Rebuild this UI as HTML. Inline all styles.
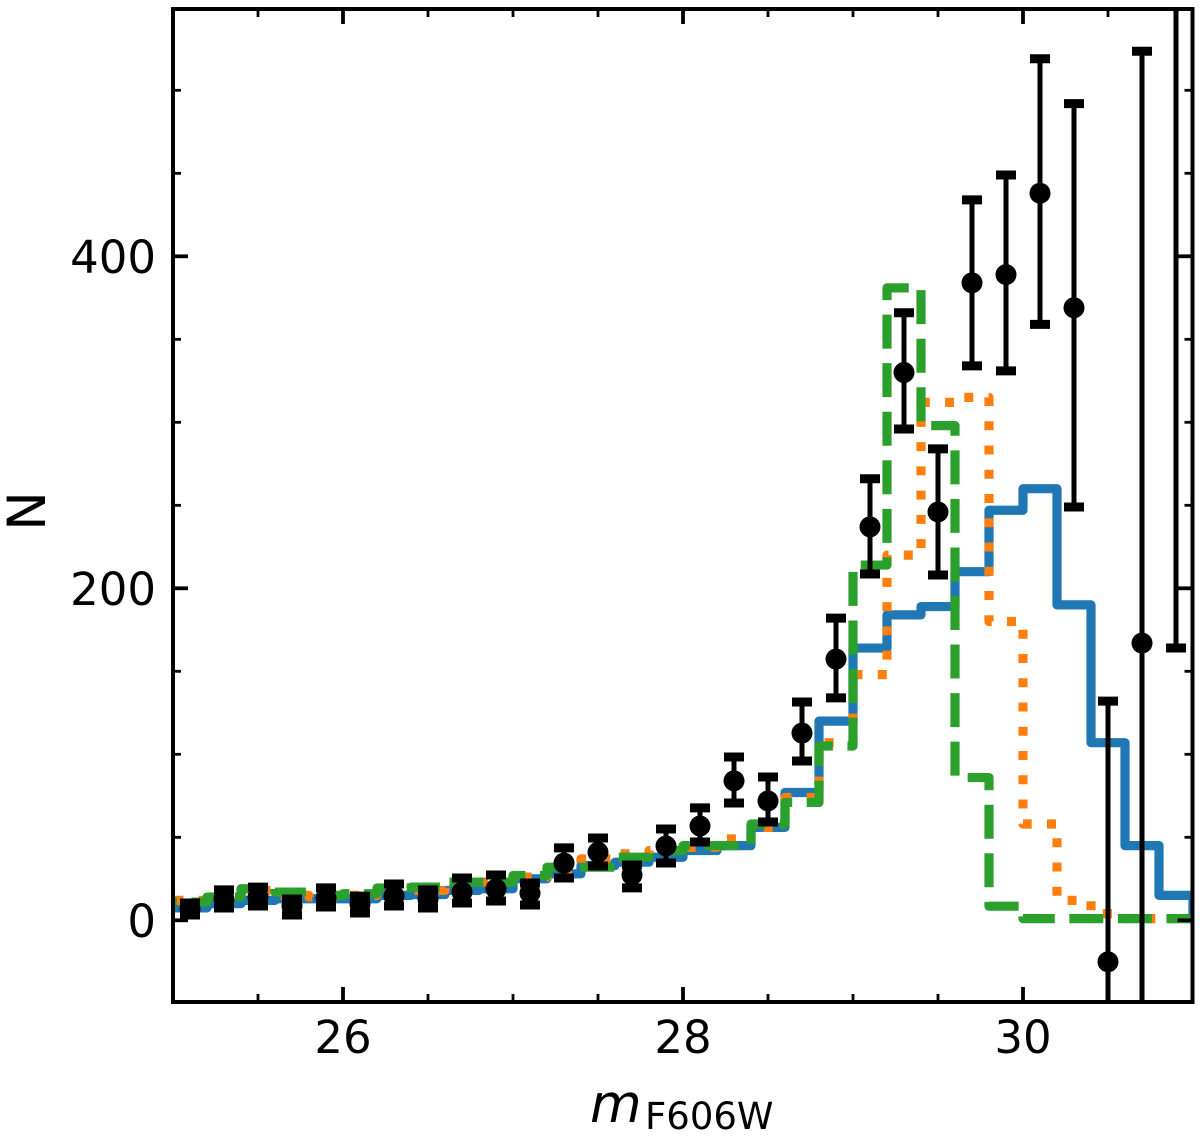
<!DOCTYPE html>
<html lang="en">
<head>
<meta charset="utf-8">
<title>N vs mF606W</title>
<style>
  html, body { margin: 0; padding: 0; background: #fff; width: 1200px; height: 1138px; overflow: hidden; }
  svg { display: block; }
  text { font-family: "DejaVu Sans", "Liberation Sans", sans-serif; fill: #000; }
</style>
</head>
<body>
<svg id="chart" xmlns="http://www.w3.org/2000/svg" width="1200" height="1138" viewBox="0 0 1200 1138">
  <defs>
    <clipPath id="plot-clip"><rect x="173" y="9" width="1019.5" height="993"></rect></clipPath>
  </defs>
  <rect x="0" y="0" width="1200" height="1138" fill="#fff"></rect>
  <g id="series-layer" clip-path="url(#plot-clip)"></g>
  <g id="points-layer" clip-path="url(#plot-clip)"></g>
  <g id="axes-layer"></g>
  <text x="590" y="1122" font-size="53" font-style="italic">m</text>
  <text x="645" y="1129" font-size="37">F606W</text>
  <text transform="translate(45 511) rotate(-90)" text-anchor="middle" font-size="53">N</text>
</svg>
<script>
// Histogram bins: left edges run from 25.0 in steps of 0.2
const binEdges = [25.0,25.2,25.4,25.6,25.8,26.0,26.2,26.4,26.6,26.8,27.0,27.2,27.4,27.6,27.8,28.0,28.2,28.4,28.6,28.8,29.0,29.2,29.4,29.6,29.8,30.0,30.2,30.4,30.6,30.8,31.0];
const modelBlue = [7.5,10,12,13,13,13,15,15.5,18,19,25,28,33,35,38,42,45,56,77,120,164,184,189,210,247,260,190,107,45,15];
const modelOrange = [12,13,18,15,14,15,19,18,22,23,26,31,37,40,42,44,49,56,74,107,148,220,312,315,180,58,12,4,1,1];
const modelGreen = [11,14,19,17,15,16,19.5,20,23,23,27,32,32,38,42,45,45,58,71,105,214,381,298,86,8.5,1,1,1,1,1];

// Observed points with asymmetric error bars
const pointMags = [25.1,25.3,25.5,25.7,25.9,26.1,26.3,26.5,26.7,26.9,27.1,27.3,27.5,27.7,27.9,28.1,28.3,28.5,28.7,28.9,29.1,29.3,29.5,29.7,29.9,30.1,30.3,30.5,30.7,30.9];
const pointCounts = [6.8,12.8,14,8.6,13.4,9.8,14.6,12.8,17,18.9,16.4,34.5,41,27.3,44.8,56.8,84,71.9,112.8,157.4,237,330,246,384,389,438,369,-25,167,600];
const pointUpper = [10.4,18.3,20,12.8,19.5,14.6,21.9,18.3,25.5,27.3,22.5,43.6,49.6,33.3,55,67.7,98.4,86.3,131.5,182,266,366,284,434,449,519,492,132,523.5,900];
const pointLower = [3.2,7.4,8.6,3.2,8,4.4,8.6,7.4,10.4,11.6,9.2,25.5,32.7,19.5,34.5,47.2,70.7,59.2,96,134,208.6,296,208,334,331,359,249,-300,-300,164];

// Axis ticks and labels
const xMajorTicks = [26,28,30];
const xMinorTicks = [25.5,26.5,27,27.5,28.5,29,29.5,30.5];
const yMajorTicks = [0,200,400];
const yMinorTicks = [50,100,150,250,300,350,450,500];
const xTickLabels = ['26','28','30'];
const yTickLabels = ['0','200','400'];

const NS = 'http://www.w3.org/2000/svg';
const plotLeft = 173, plotRight = 1192.5, plotTop = 9, plotBottom = 1002;
function xScale(m) { return 173 + 170 * (m - 25); }
function yScale(v) { return 920.3 - 1.66 * v; }
function inPlot(y) { return y >= plotTop && y <= plotBottom; }
function clampY(y) { return Math.min(plotBottom, Math.max(plotTop, y)); }

function make(tag, attrs, parent) {
  const el = document.createElementNS(NS, tag);
  for (const k in attrs) el.setAttribute(k, attrs[k]);
  parent.appendChild(el);
  return el;
}

function stepPath(values) {
  let d = 'M' + xScale(binEdges[0]) + ' ' + yScale(values[0]);
  for (let i = 0; i < values.length; i++) {
    d += ' L' + xScale(binEdges[i]) + ' ' + yScale(values[i]);
    d += ' L' + xScale(binEdges[i + 1]) + ' ' + yScale(values[i]);
  }
  d += ' L' + xScale(binEdges[binEdges.length - 1]) + ' ' + yScale(0);
  return d;
}

const seriesLayer = document.getElementById('series-layer');
const pointsLayer = document.getElementById('points-layer');
const axesLayer = document.getElementById('axes-layer');

const blueLine = make('path', { d: stepPath(modelBlue), fill: 'none', stroke: '#1f77b4', 'stroke-width': 9.2, 'stroke-linejoin': 'round' }, seriesLayer);



const orangeLine = make('path', { d: stepPath(modelOrange), fill: 'none', stroke: '#ff7f0e', 'stroke-width': 9.2, 'stroke-linejoin': 'round', 'stroke-dasharray': '9 15.25', 'stroke-dashoffset': 22.85 }, seriesLayer);



const greenLine = make('path', { d: stepPath(modelGreen), fill: 'none', stroke: '#2ca02c', 'stroke-width': 9.2, 'stroke-linejoin': 'round', 'stroke-dasharray': '34 14.55', 'stroke-dashoffset': 30.15 }, seriesLayer);



pointMags.forEach(function (m, i) {
  const g = make('g', {}, pointsLayer);
  
  
  const x = xScale(m);
  const yLow = yScale(pointLower[i]);
  const yHigh = yScale(pointUpper[i]);
  const yMid = yScale(pointCounts[i]);
  make('line', { x1: x, x2: x, y1: clampY(yLow), y2: clampY(yHigh), stroke: '#000', 'stroke-width': 5 }, g);
  if (inPlot(yLow)) make('line', { x1: x - 10, x2: x + 10, y1: yLow, y2: yLow, stroke: '#000', 'stroke-width': 9 }, g);
  if (inPlot(yHigh)) make('line', { x1: x - 10, x2: x + 10, y1: yHigh, y2: yHigh, stroke: '#000', 'stroke-width': 9 }, g);
  if (inPlot(yMid)) make('circle', { cx: x, cy: yMid, r: 10.5, fill: '#000' }, g);
});

function drawXTick(m, len, width, name) {
  const x = xScale(m);
  const a = make('line', { x1: x, x2: x, y1: plotBottom, y2: plotBottom - len, stroke: '#000', 'stroke-width': width }, axesLayer);
  
  
  const b = make('line', { x1: x, x2: x, y1: plotTop, y2: plotTop + len, stroke: '#000', 'stroke-width': width }, axesLayer);
  
  
}
function drawYTick(v, len, width, name) {
  const y = yScale(v);
  const a = make('line', { x1: plotLeft, x2: plotLeft + len, y1: y, y2: y, stroke: '#000', 'stroke-width': width }, axesLayer);
  
  
  const b = make('line', { x1: plotRight, x2: plotRight - len, y1: y, y2: y, stroke: '#000', 'stroke-width': width }, axesLayer);
  
  
}
xMinorTicks.forEach(function (m) { drawXTick(m, 8, 2.8, 'x-minor-tick'); });
xMajorTicks.forEach(function (m) { drawXTick(m, 15, 3.8, 'x-major-tick'); });
yMinorTicks.forEach(function (v) { drawYTick(v, 8, 2.8, 'y-minor-tick'); });
yMajorTicks.forEach(function (v) { drawYTick(v, 15, 3.8, 'y-major-tick'); });

xMajorTicks.forEach(function (m, i) {
  const t = make('text', { x: xScale(m), y: 1053, 'text-anchor': 'middle', 'font-size': 45 }, axesLayer);
  t.textContent = xTickLabels[i];
  
  
});
yMajorTicks.forEach(function (v, i) {
  const t = make('text', { x: 156, y: yScale(v) + 16.5, 'text-anchor': 'end', 'font-size': 45 }, axesLayer);
  t.textContent = yTickLabels[i];
  
  
});

const frame = make('rect', { x: plotLeft, y: plotTop, width: plotRight - plotLeft, height: plotBottom - plotTop, fill: 'none', stroke: '#000', 'stroke-width': 4 }, axesLayer);


</script>
</body>
</html>
